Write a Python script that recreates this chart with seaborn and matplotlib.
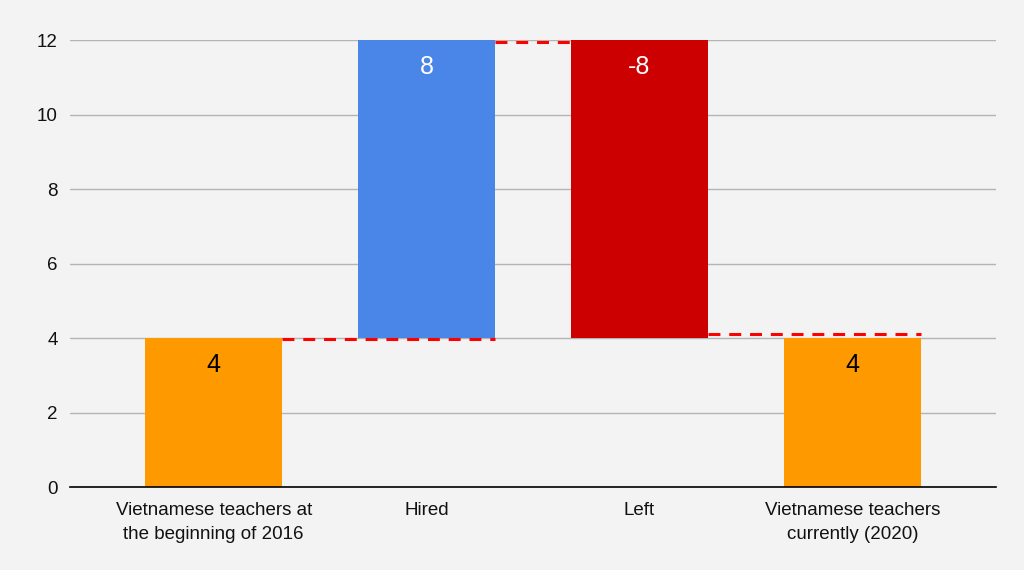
import numpy as np
import pandas as pd
import matplotlib
matplotlib.use("Agg")
import matplotlib.pyplot as plt
import seaborn as sns

categories = ["Vietnamese teachers at\nthe beginning of 2016", "Hired", "Left",
              "Vietnamese teachers\ncurrently (2020)"]
values = [4, 8, -8, 4]
is_total = [True, False, False, True]
bar_colors = ["#ff9900", "#4a86e8", "#cc0000", "#ff9900"]
label_colors = ["black", "white", "white", "black"]
y_ticks = [0, 2, 4, 6, 8, 10, 12]

# work out floating bar bottoms / tops
bottoms = []
tops = []
level = 0
for v, tot in zip(values, is_total):
    if tot:
        bottoms.append(0)
        tops.append(v)
        level = v
    else:
        new_level = level + v
        bottoms.append(min(level, new_level))
        tops.append(max(level, new_level))
        level = new_level
heights = [t - b for t, b in zip(tops, bottoms)]

df = pd.DataFrame({"category": categories, "height": heights})

sns.set_theme(style="white")
plt.rcParams["font.family"] = ["Liberation Sans", "DejaVu Sans"]

fig = plt.figure(figsize=(10.24, 5.7), dpi=100)
fig.patch.set_facecolor("#f3f3f3")
ax = fig.add_axes([0.0684, 0.1456, 0.9043, 0.7842])
ax.set_facecolor("#f3f3f3")

width = 0.645
sns.barplot(data=df, x="category", y="height", ax=ax, width=width,
            color=bar_colors[0], saturation=1, zorder=3)

for i, p in enumerate(ax.patches):
    p.set_y(bottoms[i])
    p.set_height(heights[i])
    p.set_facecolor(bar_colors[i])
    p.set_edgecolor("none")
    ax.text(i, tops[i] - 0.72, f"{values[i]}", ha="center", va="center",
            fontsize=18, color=label_colors[i], zorder=5)

# dashed connectors: from right edge of one bar to right edge of the next
# (google sheets style, slightly offset from the level)
offsets = [-0.03, -0.05, 0.1]
levels = [4, 12, 4]
starts = [i + width / 2 for i in range(3)]
ends = [1 + width / 2, 2 - width / 2, 3 + width / 2]
for lvl, off, x0, x1 in zip(levels, offsets, starts, ends):
    ax.hlines(lvl + off, x0, x1, colors="#ff0000",
              linestyles=(0, (3.9, 2.9)), linewidth=2.2, zorder=4)

ax.set_xlim(-0.675, 3.675)
ax.set_ylim(0, 12)
ax.set_yticks(y_ticks)
ax.yaxis.grid(True, color="#b4b4b4", linewidth=1, zorder=0)
ax.set_axisbelow(True)
for s in ["top", "right", "left"]:
    ax.spines[s].set_visible(False)
ax.spines["bottom"].set_color("black")
ax.spines["bottom"].set_linewidth(1.2)
ax.spines["bottom"].set_zorder(6)
ax.tick_params(axis="both", length=0, labelsize=13.5, colors="#111111")
ax.tick_params(axis="y", pad=9)
ax.tick_params(axis="x", pad=11)
for t in ax.get_xticklabels():
    t.set_linespacing(1.55)
ax.set_xlabel("")
ax.set_ylabel("")

fig.savefig("out.png", dpi=100, facecolor=fig.get_facecolor())
